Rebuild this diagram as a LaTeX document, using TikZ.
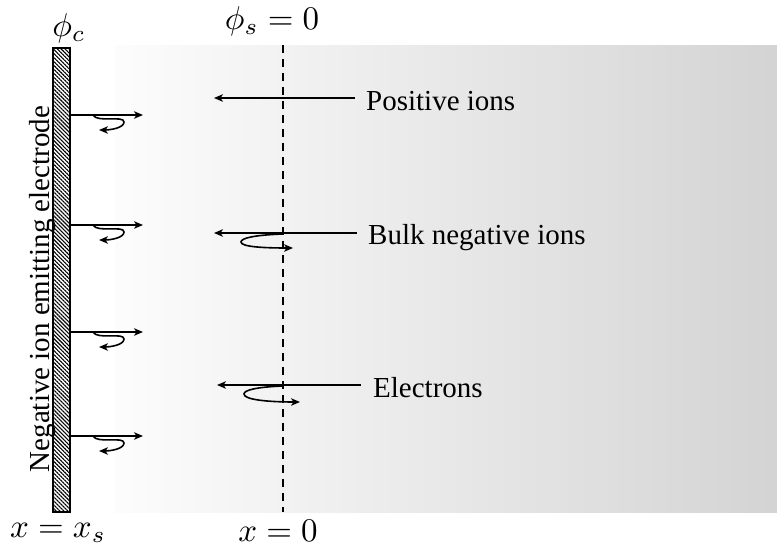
\documentclass[tikz,border=0pt]{standalone}
\usepackage{fontspec}
\setmainfont{Liberation Serif}
\usetikzlibrary{arrows.meta,patterns.meta}
\tikzset{
  arr/.style={line width=1.6pt,-{Stealth[length=9pt,width=7.5pt,inset=2.5pt]}},
  lbl/.style={inner sep=0pt,font=\fontsize{29}{34}\selectfont,anchor=base west},
  mlbl/.style={inner sep=0pt,scale=3.3},
}
\begin{document}
\begin{tikzpicture}[x=1pt,y=-1pt]
\useasboundingbox (0,0) rectangle (777,554);
% background gradient
\shade[left color=black!1, right color=black!17] (115,45) rectangle (777,512);
% electrode
\fill[white] (53,48) rectangle (70,512);
\fill[pattern={Lines[angle=-45,distance=2.8pt,line width=1.1pt]}] (53,48) rectangle (70,512);
\draw[line width=1.2pt] (53,48) rectangle (70,512);
\node[rotate=90,anchor=base,inner sep=0pt,font=\fontsize{29}{34}\selectfont] (elab) at (49,289) {Negative ion emitting electrode};
% sheath edge
\coordinate (dtop) at (283,45);
\coordinate (dbot) at (283,512);
\draw[line width=1.4pt,dash pattern=on 8pt off 6pt] (dtop) -- (dbot);
% labels
\node[mlbl] (phic) at (69,28) {$\phi_c$};
\node[mlbl] (phis) at (272,21) {$\phi_s = 0$};
\node[mlbl] (xs) at (58,533) {$x = x_s$};
\node[mlbl] (x0) at (278,531) {$x = 0$};
% emitted ions
\foreach \y [count=\i] in {115,225,332,436}{
  \coordinate (e\i a) at (70,\y);
  \coordinate (e\i b) at (143,\y);
  \draw[arr] (e\i a) -- (e\i b);
  \coordinate (c\i a) at (93,\y);
  \coordinate (c\i m) at (124,\y+7);
  \coordinate (c\i b) at (99,\y+15);
  \draw[arr] (c\i a) .. controls (97,\y+8) and (124,\y) .. (c\i m) .. controls (124,\y+13) and (110,\y+15) .. (c\i b);
}
% positive ions
\node[lbl] (pos) at (366,110) {Positive ions};
\coordinate (p1) at (355,98);
\coordinate (p2) at (214,98);
\draw[arr] (p1) -- (p2);
% bulk negative ions
\node[lbl] (bulk) at (368,244) {Bulk negative ions};
\coordinate (b1) at (357,233);
\coordinate (b2) at (214,233);
\draw[arr] (b1) -- (b2);
\coordinate (bc1) at (283,234);
\coordinate (bcm) at (241,242);
\coordinate (bc2) at (293,248);
\draw[arr] (bc1) .. controls (255,235) and (241,238) .. (bcm) .. controls (241,247) and (265,248) .. (bc2);
% electrons
\node[lbl] (el) at (373,397) {Electrons};
\coordinate (l1) at (361,385);
\coordinate (l2) at (217,385);
\draw[arr] (l1) -- (l2);
\coordinate (lc1) at (283,386);
\coordinate (lcm) at (244,394);
\coordinate (lc2) at (300,402);
\draw[arr] (lc1) .. controls (257,387) and (244,390) .. (lcm) .. controls (244,400) and (270,402) .. (lc2);
\end{tikzpicture}
\end{document}
